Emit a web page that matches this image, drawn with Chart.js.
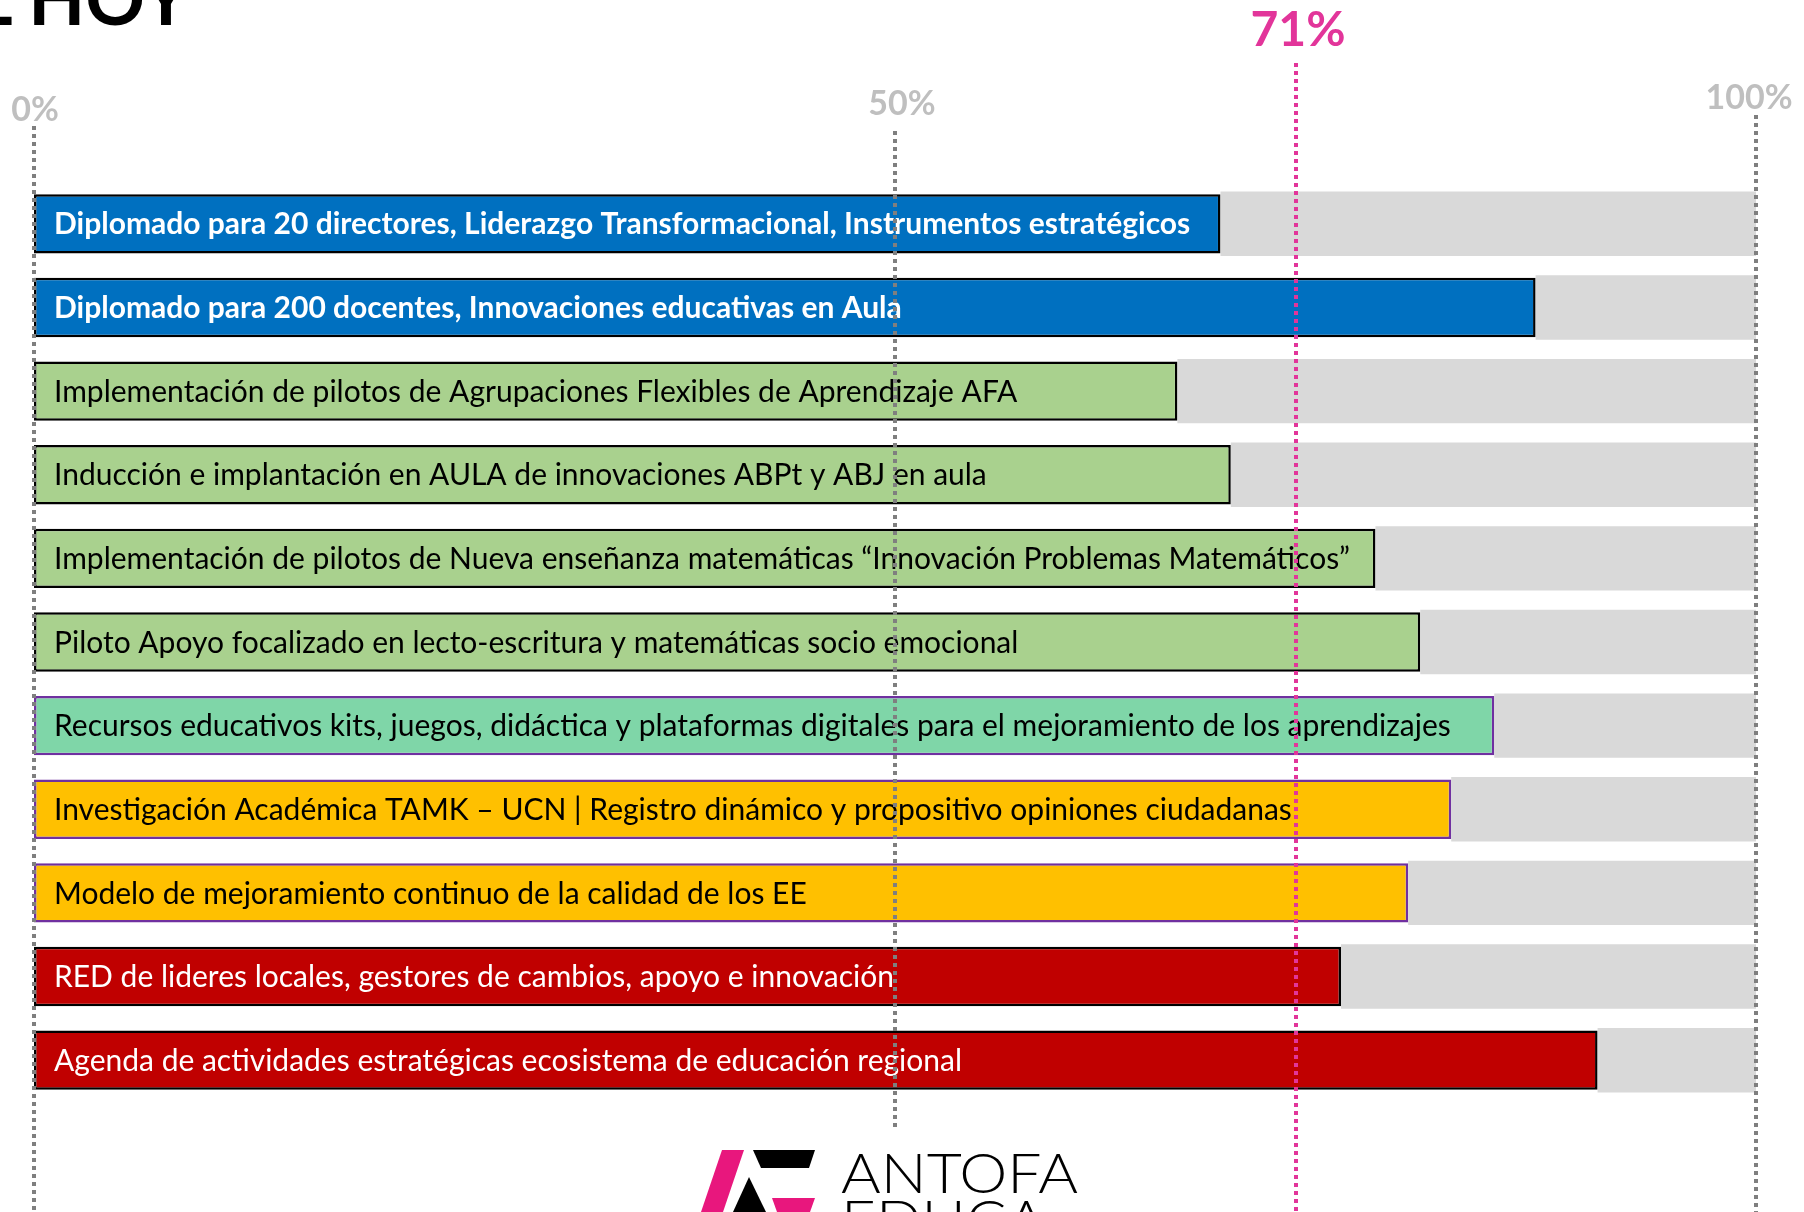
<!DOCTYPE html>
<html lang="es">
<head>
<meta charset="utf-8">
<title>Avance al hoy</title>
<script src="https://cdn.jsdelivr.net/npm/chart.js@4.4.0/dist/chart.umd.min.js"></script>
<style>
  html, body { margin: 0; padding: 0; background: #fff; overflow: hidden; }
  #wrap { position: relative; width: 1804px; height: 1212px; overflow: hidden; }
  #chart { position: absolute; left: 0; top: 0; }
  #deco { position: absolute; left: 0; top: 0; pointer-events: none; }
</style>
</head>
<body>
<div id="wrap">
  <canvas id="chart" width="1804" height="1212"></canvas>
  <svg id="deco" width="1804" height="1212" viewBox="0 0 1804 1212">
    <!-- titulo cortado arriba -->
    <text x="190" y="25" text-anchor="end" font-family="Lato, sans-serif" font-weight="700" font-size="74" fill="#000">AVANCE AL HOY</text>
    <!-- logo AntofaEduca -->
    <polygon points="722,1150 744,1150 723,1212 701,1212" fill="#E8177D"/>
    <polygon points="753,1150 815,1150 809,1168 761,1168" fill="#000"/>
    <polygon points="749,1177 766,1212 733,1212" fill="#000"/>
    <polygon points="772,1198 815,1198 810,1212 777,1212" fill="#E8177D"/>
    <text x="841" y="1193" font-family="Lato, sans-serif" font-weight="300" font-size="56" textLength="237" lengthAdjust="spacingAndGlyphs" fill="#000">ANTOFA</text>
    <text x="841" y="1240" font-family="Lato, sans-serif" font-weight="300" font-size="56" textLength="205" lengthAdjust="spacingAndGlyphs" fill="#000">EDUCA</text>
  </svg>
</div>
<script>
// Avance de iniciativas - barras horizontales con meta

const activities = [
  'Diplomado para 20 directores, Liderazgo Transformacional, Instrumentos estratégicos',
  'Diplomado para 200 docentes, Innovaciones educativas en Aula',
  'Implementación de pilotos de Agrupaciones Flexibles de Aprendizaje AFA',
  'Inducción e implantación en AULA de innovaciones ABPt y ABJ en aula',
  'Implementación de pilotos de Nueva enseñanza matemáticas “Innovación Problemas Matemáticos”',
  'Piloto Apoyo focalizado en lecto-escritura y matemáticas socio emocional',
  'Recursos educativos kits, juegos, didáctica y plataformas digitales para el mejoramiento de los aprendizajes',
  'Investigación Académica TAMK – UCN | Registro dinámico y propositivo opiniones ciudadanas',
  'Modelo de mejoramiento continuo de la calidad de los EE',
  'RED de lideres locales, gestores de cambios, apoyo e innovación',
  'Agenda de actividades estratégicas ecosistema de educación regional'
];
const progress = [68.9, 87.2, 66.4, 69.5, 77.9, 80.5, 84.8, 82.3, 79.8, 75.9, 90.8];
const groups = ['diplomado', 'diplomado', 'piloto', 'piloto', 'piloto', 'piloto',
  'recursos', 'investigacion', 'investigacion', 'red', 'red'];

const axisTicks = [0, 50, 100];
const targetValue = 73.3;   // donde esta dibujada la linea en la lamina
const targetLabel = '71%';

// ============ ESTILOS ============

const groupStyle = {
  diplomado:     { fill: '#0070C0', border: '#000000', text: '#ffffff', weight: 'bold' },
  piloto:        { fill: '#A9D18E', border: '#000000', text: '#000000', weight: 'normal' },
  recursos:      { fill: '#7FD6A8', border: '#7030A0', text: '#000000', weight: 'normal' },
  investigacion: { fill: '#FFC000', border: '#7030A0', text: '#000000', weight: 'normal' },
  red:           { fill: '#C00000', border: '#000000', text: '#ffffff', weight: 'normal' }
};

// linea punteada: [inicio, fin, base del rotulo, corrimiento del rotulo] en px
const gridExtent = { 0: [126, 1212, 121, 1], 50: [131, 1128, 115, 7], 100: [115, 1212, 109, -7] };

// ============ PLUGINS ============

const barLabels = {
  id: 'barLabels',
  afterDatasetsDraw(chart) {
    const ctx = chart.ctx;
    const meta = chart.getDatasetMeta(0);
    ctx.save();
    ctx.textBaseline = 'middle';
    ctx.textAlign = 'left';
    meta.data.forEach((bar, i) => {
      const st = groupStyle[groups[i]];
      ctx.font = `${st.weight} 30px Lato, sans-serif`;
      ctx.fillStyle = st.text;
      ctx.fillText(activities[i], bar.base + 20, bar.y + 1);
    });
    ctx.restore();
  }
};

const refLines = {
  id: 'refLines',
  afterDraw(chart) {
    const ctx = chart.ctx;
    const x = chart.scales.x;
    ctx.save();
    ctx.lineWidth = 4;
    ctx.setLineDash([4, 4]);

    axisTicks.forEach(t => {
      const px = Math.round(x.getPixelForValue(t));
      const [y0, y1, ly, dx] = gridExtent[t];
      ctx.strokeStyle = '#7F7F7F';
      ctx.beginPath();
      ctx.moveTo(px, y0);
      ctx.lineTo(px, y1);
      ctx.stroke();

      ctx.font = 'bold 34px Lato, sans-serif';
      ctx.fillStyle = '#BFBFBF';
      ctx.textAlign = 'center';
      ctx.textBaseline = 'alphabetic';
      ctx.fillText(t + '%', px + dx, ly);
    });

    // meta
    const tx = Math.round(x.getPixelForValue(targetValue));
    ctx.strokeStyle = '#E2359A';
    ctx.beginPath();
    ctx.moveTo(tx, 63);
    ctx.lineTo(tx, 1212);
    ctx.stroke();

    ctx.font = 'bold 48px Lato, sans-serif';
    ctx.fillStyle = '#E2359A';
    ctx.textAlign = 'center';
    ctx.fillText(targetLabel, tx + 2, 46);
    ctx.restore();
  }
};

// ============ GRAFICO ============

new Chart(document.getElementById('chart'), {
  type: 'bar',
  data: {
    labels: activities,
    datasets: [
      {
        label: 'Avance',
        data: progress,
        backgroundColor: groups.map(g => groupStyle[g].fill),
        borderColor: groups.map(g => groupStyle[g].border),
        borderWidth: 2.5,
        borderSkipped: false,
        barPercentage: 0.71,
        categoryPercentage: 1,
        stack: 'a',
        order: 1
      },
      {
        label: 'Pendiente',
        data: progress.map(v => 100 - v),
        backgroundColor: '#D9D9D9',
        borderWidth: 0,
        barPercentage: 0.77,
        categoryPercentage: 1,
        stack: 'a',
        order: 2
      }
    ]
  },
  options: {
    indexAxis: 'y',
    responsive: false,
    animation: false,
    devicePixelRatio: 1,
    layout: { padding: { left: 34, right: 48, top: 182, bottom: 110 } },
    plugins: { legend: { display: false }, tooltip: { enabled: false } },
    scales: {
      x: { stacked: true, min: 0, max: 100, display: false },
      y: { stacked: true, display: false }
    }
  },
  plugins: [barLabels, refLines]
});
</script>
</body>
</html>
